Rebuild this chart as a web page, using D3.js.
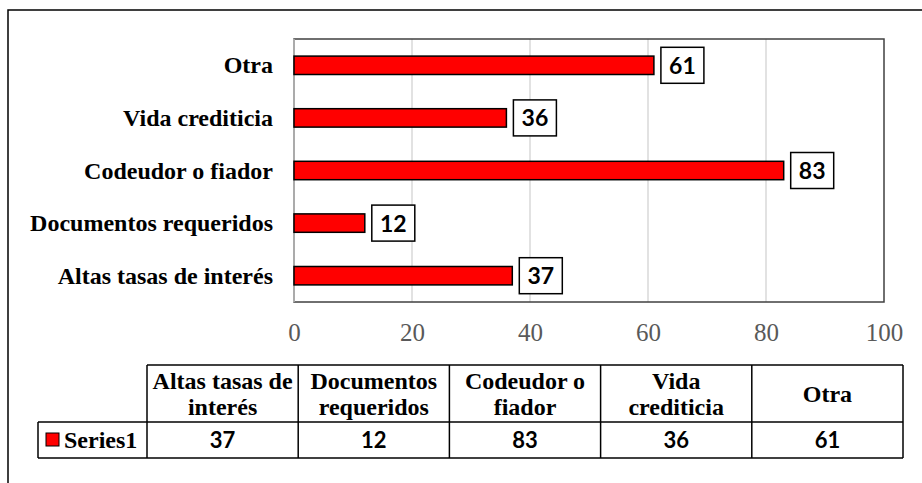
<!DOCTYPE html>
<html>
<head>
<meta charset="utf-8">
<script src="https://cdn.jsdelivr.net/npm/d3@7"></script>
<style>
  body { margin: 0; background: #fff; }
  svg { display: block; }
</style>
</head>
<body>
<div id="chart"></div>
<script>
// data
var categories = ["Altas tasas de interés", "Documentos requeridos", "Codeudor o fiador", "Vida crediticia", "Otra"];
var values = [37, 12, 83, 36, 61];
var xTicks = [0, 20, 40, 60, 80, 100];
var headerLines = [["Altas tasas de", "interés"], ["Documentos", "requeridos"], ["Codeudor o", "fiador"], ["Vida", "crediticia"], ["Otra"]];
var seriesName = "Series1";

var W = 922, H = 483;
var serif = "'Liberation Serif', 'DejaVu Serif', serif";
var sans = "Lato, 'Open Sans', sans-serif";

var svg = d3.select("#chart").append("svg").attr("width", W).attr("height", H);

// outer chart frame (only left and top fall inside the picture)
svg.append("rect").attr("x", 8).attr("y", 10).attr("width", W + 20).attr("height", H + 20)
  .attr("fill", "#fff").attr("stroke", "#000").attr("stroke-width", 1.5);

var plot = { left: 294, right: 884, top: 39, bottom: 302 };

var x = d3.scaleLinear().domain([0, 100]).range([plot.left, plot.right]);
var y = d3.scaleBand().domain(categories.slice().reverse()).range([plot.top, plot.bottom])
  .paddingInner(0.65).paddingOuter(0.325);

//gridlines
svg.selectAll("line.grid").data(xTicks.slice(1, -1)).enter().append("line")
  .attr("class", "grid")
  .attr("x1", function (d) { return x(d); }).attr("x2", function (d) { return x(d); })
  .attr("y1", plot.top).attr("y2", plot.bottom)
  .attr("stroke", "#d9d9d9").attr("stroke-width", 1.5);

// plot area border
svg.append("rect").attr("x", plot.left).attr("y", plot.top)
  .attr("width", plot.right - plot.left).attr("height", plot.bottom - plot.top)
  .attr("fill", "none").attr("stroke", "#404040").attr("stroke-width", 1.5);
svg.append("line").attr("x1", plot.left).attr("x2", plot.left)
  .attr("y1", plot.top).attr("y2", plot.bottom)
  .attr("stroke", "#bfbfbf").attr("stroke-width", 1.5);

var rows = categories.map(function (c, i) { return { cat: c, value: values[i] }; });

// bars
svg.selectAll("rect.bar").data(rows).enter().append("rect")
  .attr("class", "bar")
  .attr("x", x(0))
  .attr("y", function (d) { return y(d.cat); })
  .attr("width", function (d) { return x(d.value) - x(0); })
  .attr("height", y.bandwidth())
  .attr("fill", "#ff0000").attr("stroke", "#000").attr("stroke-width", 1.5);

// boxed value labels
var lab = svg.selectAll("g.lab").data(rows).enter().append("g").attr("class", "lab")
  .attr("transform", function (d) {
    return "translate(" + (x(d.value) + 7) + "," + (y(d.cat) + y.bandwidth() / 2) + ")";
  });
lab.append("rect").attr("x", 0).attr("y", -18).attr("width", 43).attr("height", 36)
  .attr("fill", "#fff").attr("stroke", "#000").attr("stroke-width", 1.5);
lab.append("text").attr("x", 21.5).attr("y", 8.5).attr("text-anchor", "middle")
  .style("font-family", sans).style("font-weight", "bold").style("font-size", "23px")
  .text(function (d) { return d.value; });

// category labels
svg.selectAll("text.cat").data(categories).enter().append("text")
  .attr("class", "cat")
  .attr("x", 273)
  .attr("y", function (d) { return y(d) + y.bandwidth() / 2 + 8; })
  .attr("text-anchor", "end")
  .style("font-family", serif).style("font-weight", "bold").style("font-size", "24px")
  .text(function (d) { return d; });

// value axis
var xAxis = svg.append("g").attr("transform", "translate(0," + plot.bottom + ")")
  .call(d3.axisBottom(x).tickValues(xTicks).tickSize(0).tickFormat(d3.format("d")));
xAxis.select(".domain").remove();
xAxis.selectAll("text").attr("y", 39).attr("dy", null)
  .style("font-family", serif).style("font-size", "25px").attr("fill", "#595959");

// data table
var tab = { left: 147, right: 903, top: 365, mid: 422, bottom: 458, legLeft: 38 };
var cx = d3.scaleBand().domain(categories).range([tab.left, tab.right]);

var grid = svg.append("g").attr("stroke", "#000").attr("stroke-width", 1.5);
grid.append("line").attr("x1", tab.left).attr("x2", tab.right).attr("y1", tab.top).attr("y2", tab.top);
grid.append("line").attr("x1", tab.legLeft).attr("x2", tab.right).attr("y1", tab.mid).attr("y2", tab.mid);
grid.append("line").attr("x1", tab.legLeft).attr("x2", tab.right).attr("y1", tab.bottom).attr("y2", tab.bottom);
grid.append("line").attr("x1", tab.legLeft).attr("x2", tab.legLeft).attr("y1", tab.mid).attr("y2", tab.bottom);
grid.selectAll("line.col").data(categories).enter().append("line")
  .attr("class", "col")
  .attr("x1", function (d) { return cx(d); }).attr("x2", function (d) { return cx(d); })
  .attr("y1", tab.top).attr("y2", tab.bottom);
grid.append("line").attr("x1", tab.right).attr("x2", tab.right).attr("y1", tab.top).attr("y2", tab.bottom);

// header cells
svg.selectAll("text.head").data(categories).enter().append("text")
  .attr("class", "head")
  .attr("text-anchor", "middle")
  .style("font-family", serif).style("font-weight", "bold").style("font-size", "24px")
  .each(function (d, i) {
    var lines = headerLines[i];
    var midY = (tab.top + tab.mid) / 2;
    var t = d3.select(this);
    lines.forEach(function (l, j) {
      t.append("tspan")
        .attr("x", cx(d) + cx.bandwidth() / 2)
        .attr("y", midY + 8 + (j - (lines.length - 1) / 2) * 26)
        .text(l);
    });
  });

// value cells
svg.selectAll("text.cell").data(rows).enter().append("text")
  .attr("class", "cell")
  .attr("x", function (d) { return cx(d.cat) + cx.bandwidth() / 2; })
  .attr("y", (tab.mid + tab.bottom) / 2 + 8)
  .attr("text-anchor", "middle")
  .style("font-family", sans).style("font-weight", "bold").style("font-size", "22px")
  .text(function (d) { return d.value; });

// legend key
svg.append("rect").attr("x", 46).attr("y", 433).attr("width", 13).attr("height", 13)
  .attr("fill", "#ff0000").attr("stroke", "#000").attr("stroke-width", 1);
svg.append("text").attr("x", 64).attr("y", (tab.mid + tab.bottom) / 2 + 8)
  .style("font-family", serif).style("font-weight", "bold").style("font-size", "24px")
  .text(seriesName);
</script>
</body>
</html>
